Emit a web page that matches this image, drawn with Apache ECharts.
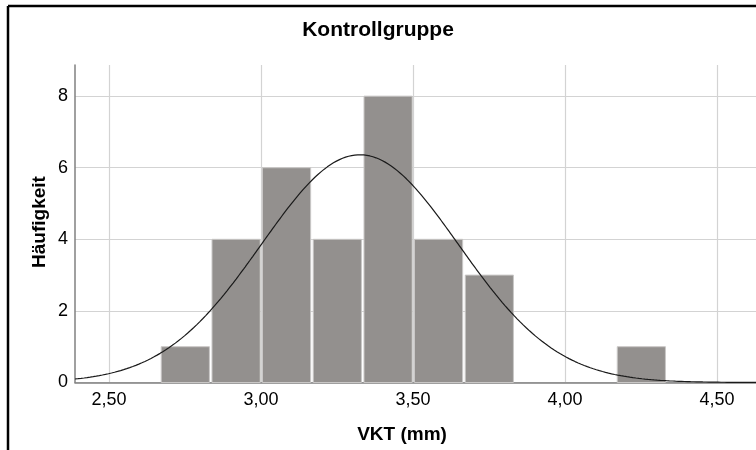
<!DOCTYPE html>
<html>
<head>
<meta charset="utf-8">
<script src="https://cdn.jsdelivr.net/npm/echarts@6/dist/echarts.min.js"></script>
<style>
  html, body { margin: 0; padding: 0; background: #ffffff; }
  #chart { width: 756px; height: 450px; }
</style>
</head>
<body>
<div id="chart"></div>
<script>
// Histogram of VKT (mm) for the control group with fitted normal curve
const binLower = [2.670, 2.837, 3.003, 3.170, 3.337, 3.503, 3.670, 3.837, 4.003, 4.170];
const binWidth = 1 / 6;
const counts = [1, 4, 6, 4, 8, 4, 3, 0, 0, 1];
const xTickValues = [2.5, 3.0, 3.5, 4.0, 4.5];
const yTickValues = [0, 2, 4, 6, 8];
const xRange = [2.388, 4.628];
const yRange = [0, 8.87];

// Normal fit parameters (mean, standard deviation); sample size from the counts
const fitMean = 3.325;
const fitSd = 0.324;
const sampleSize = counts.reduce((a, b) => a + b, 0);

const FONT = '"Liberation Sans", Arial, sans-serif';

const histData = binLower.map((lo, i) => [lo, lo + binWidth, counts[i]]);

const curveData = [];
for (let x = xRange[0]; x <= xRange[1] + 1e-9; x += 0.005) {
  const z = (x - fitMean) / fitSd;
  const y = sampleSize * binWidth * Math.exp(-0.5 * z * z) / (fitSd * Math.sqrt(2 * Math.PI));
  curveData.push([x, y]);
}

const chart = echarts.init(document.getElementById('chart'), null, { renderer: 'canvas' });

chart.setOption({
  animation: false,
  backgroundColor: '#ffffff',
  title: {
    text: 'Kontrollgruppe',
    left: 'center',
    top: 15,
    textStyle: { fontFamily: FONT, fontWeight: 'bold', fontSize: 21, color: '#000000' }
  },
  grid: { left: 75, right: 0, top: 65, bottom: 67.5, containLabel: false },
  xAxis: {
    type: 'value',
    min: xRange[0],
    max: xRange[1],
    axisLine: { show: true, onZero: false, lineStyle: { color: '#808080', width: 1.5 } },
    axisTick: { show: false, customValues: xTickValues },
    axisLabel: {
      customValues: xTickValues,
      formatter: v => v.toFixed(2).replace('.', ','),
      fontFamily: FONT, fontSize: 18, color: '#000000', margin: 9
    },
    splitLine: { show: true, lineStyle: { color: '#d3d3d3', width: 1.2 } }
  },
  yAxis: {
    type: 'value',
    min: yRange[0],
    max: yRange[1],
    axisLine: { show: true, lineStyle: { color: '#808080', width: 1.5 } },
    axisTick: { show: false, customValues: yTickValues },
    axisLabel: {
      customValues: yTickValues,
      fontFamily: FONT, fontSize: 18, color: '#000000', margin: 7
    },
    splitLine: { show: true, lineStyle: { color: '#d3d3d3', width: 1.2 } }
  },
  graphic: [
    { type: 'line', shape: { x1: 8, y1: 6, x2: 756, y2: 6 }, style: { stroke: '#000000', lineWidth: 2.5 } },
    { type: 'line', shape: { x1: 8, y1: 6, x2: 8, y2: 450 }, style: { stroke: '#000000', lineWidth: 2.5 } },
    {
      type: 'text', x: 402, y: 435,
      style: { text: 'VKT (mm)', fontFamily: FONT, fontWeight: 'bold', fontSize: 19, fill: '#000000', align: 'center', verticalAlign: 'middle' }
    },
    {
      type: 'text', x: 40, y: 222, rotation: Math.PI / 2,
      style: { text: 'Häufigkeit', fontFamily: FONT, fontWeight: 'bold', fontSize: 19, fill: '#000000', align: 'center', verticalAlign: 'middle' }
    }
  ],
  series: [
    {
      type: 'custom',
      data: histData,
      encode: { x: [0, 1], y: 2 },
      renderItem: function (params, api) {
        const c = api.value(2);
        if (!c) return null;
        const pTop = api.coord([api.value(0), c]);
        const pBot = api.coord([api.value(1), 0]);
        return {
          type: 'rect',
          shape: { x: pTop[0] + 0.5, y: pTop[1], width: pBot[0] - pTop[0] - 2.5, height: pBot[1] - pTop[1] },
          style: { fill: '#93908e', stroke: '#c9c7c6', lineWidth: 1 }
        };
      },
      z: 2
    },
    {
      type: 'line',
      data: curveData,
      showSymbol: false,
      smooth: false,
      lineStyle: { color: '#1a1a1a', width: 1.2 },
      z: 3
    }
  ]
});
</script>
</body>
</html>
